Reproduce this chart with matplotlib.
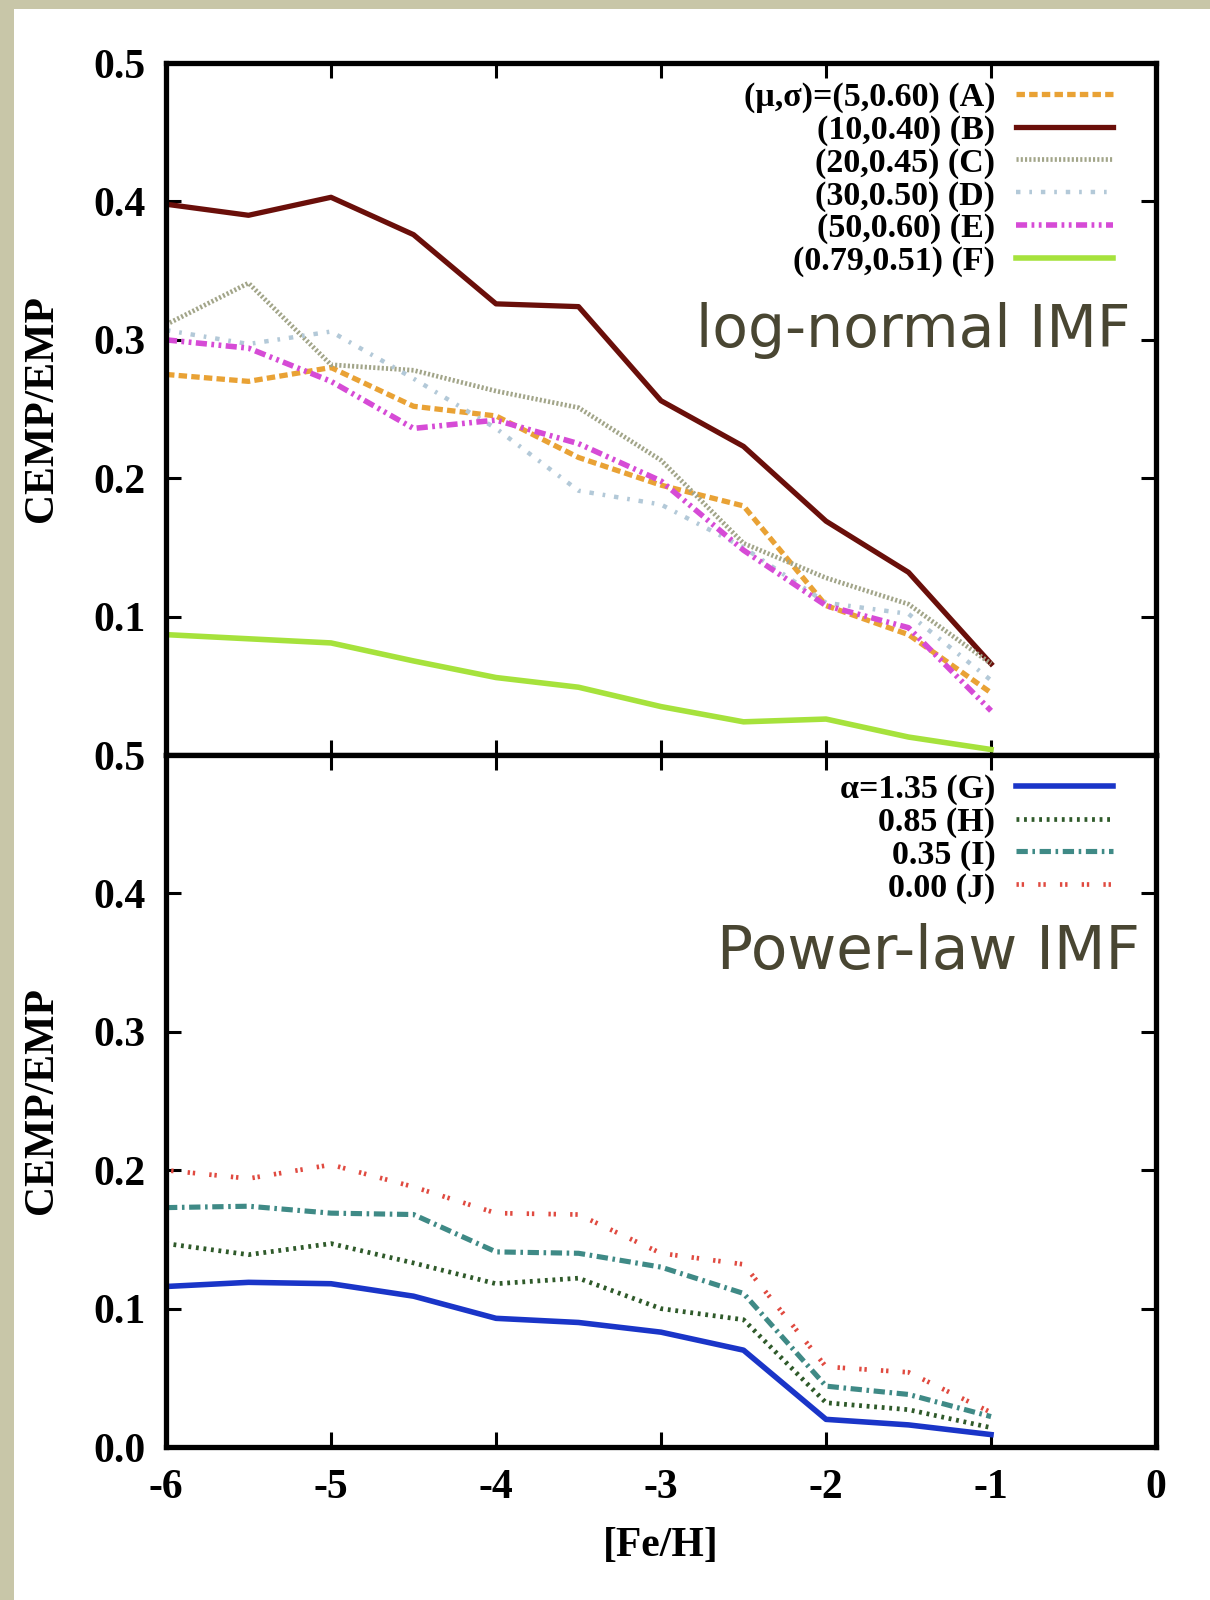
import matplotlib
matplotlib.use("Agg")
import matplotlib.pyplot as plt
from matplotlib.patches import Rectangle

# [Fe/H] grid
feh = [-6, -5.5, -5, -4.5, -4, -3.5, -3, -2.5, -2, -1.5, -1]

# log-normal IMF models
lab_top = ["(\u03bc,\u03c3)=(5,0.60) (A)", "(10,0.40) (B)", "(20,0.45) (C)",
           "(30,0.50) (D)", "(50,0.60) (E)", "(0.79,0.51) (F)"]
A = [0.275, 0.270, 0.280, 0.252, 0.245, 0.215, 0.195, 0.180, 0.108, 0.087, 0.045]
B = [0.398, 0.390, 0.403, 0.376, 0.326, 0.324, 0.256, 0.223, 0.169, 0.132, 0.066]
C = [0.311, 0.341, 0.282, 0.278, 0.263, 0.251, 0.213, 0.153, 0.128, 0.109, 0.066]
D = [0.307, 0.297, 0.306, 0.272, 0.236, 0.191, 0.181, 0.150, 0.110, 0.102, 0.054]
E = [0.300, 0.294, 0.270, 0.236, 0.242, 0.225, 0.198, 0.148, 0.108, 0.092, 0.032]
F = [0.087, 0.084, 0.081, 0.068, 0.056, 0.049, 0.035, 0.024, 0.026, 0.013, 0.004]

# power-law IMF models
lab_bot = ["\u03b1=1.35 (G)", "0.85 (H)", "0.35 (I)", "0.00 (J)"]
G = [0.116, 0.119, 0.118, 0.109, 0.093, 0.090, 0.083, 0.070, 0.020, 0.016, 0.009]
H = [0.147, 0.139, 0.147, 0.133, 0.118, 0.122, 0.100, 0.092, 0.032, 0.027, 0.014]
I = [0.173, 0.174, 0.169, 0.168, 0.141, 0.140, 0.130, 0.111, 0.044, 0.038, 0.022]
J = [0.200, 0.194, 0.204, 0.188, 0.169, 0.168, 0.140, 0.132, 0.058, 0.054, 0.025]

xticks = [-6, -5, -4, -3, -2, -1, 0]
yticks_top = [0.1, 0.2, 0.3, 0.4, 0.5]
yticks_bot = [0.0, 0.1, 0.2, 0.3, 0.4, 0.5]

serif = "Liberation Serif"
plt.rcParams["font.family"] = [serif, "DejaVu Serif"]
plt.rcParams["font.weight"] = "bold"

fig = plt.figure(figsize=(12.1, 16), dpi=100)
fig.patch.set_facecolor("#c8c6a8")
fig.add_artist(Rectangle((14 / 1210, 0), 1, 1 - 9 / 1600, transform=fig.transFigure,
                         facecolor="white", edgecolor="none", zorder=0))

ax1 = fig.add_axes([0.1372, 0.5281, 0.8182, 0.4325])
ax2 = fig.add_axes([0.1372, 0.0956, 0.8182, 0.4325])

ax1.plot(feh, A, color="#e9a235", lw=3.8, ls=(0, (1.6, 0.8)), label=lab_top[0])
ax1.plot(feh, B, color="#6a0f0a", lw=3.8, label=lab_top[1])
ax1.plot(feh, C, color="#a2a589", lw=3.4, ls=(0, (0.45, 0.45)), label=lab_top[2])
ax1.plot(feh, D, color="#b3c9d8", lw=3.2, ls=(0, (1.0, 2.0, 0.6, 2.0)), label=lab_top[3])
ax1.plot(feh, E, color="#d64bd6", lw=4.0, ls=(0, (2.0, 0.8, 0.5, 0.8, 0.5, 0.8)), label=lab_top[4])
ax1.plot(feh, F, color="#a6e23c", lw=4.0, label=lab_top[5])

ax2.plot(feh, G, color="#1a35c8", lw=4.0, label=lab_bot[0])
ax2.plot(feh, H, color="#2f5a2a", lw=3.4, ls=(0, (0.6, 1.0)), label=lab_bot[1])
ax2.plot(feh, I, color="#3f8a86", lw=3.7, ls=(0, (2.2, 0.9, 0.5, 0.9)), label=lab_bot[2])
ax2.plot(feh, J, color="#e04a40", lw=3.4, ls=(0, (0.5, 0.6, 0.5, 3.0)), label=lab_bot[3])

for ax, yt in ((ax1, yticks_top), (ax2, yticks_bot)):
    ax.set_xlim(-6, 0)
    ax.set_ylim(0, 0.5)
    ax.set_xticks(xticks)
    ax.set_yticks(yt)
    ax.set_yticklabels([f"{v:.1f}" for v in yt])
    ax.tick_params(direction="in", length=11, width=2.2, top=True, right=True,
                   labelsize=30, pad=15)
    for s in ax.spines.values():
        s.set_linewidth(3.8)
    ax.set_ylabel("CEMP/EMP", fontsize=30, fontweight="bold")
    ax.yaxis.set_label_coords(-0.106, 0.5)
    ax.legend(loc="upper right", bbox_to_anchor=(0.97, 0.993), markerfirst=False,
              frameon=False, fontsize=24.5, handlelength=2.85, handletextpad=0.6,
              labelspacing=0.05, borderaxespad=0)

ax1.tick_params(labelbottom=False)
ax2.set_xticklabels([str(v) for v in xticks])
ax2.tick_params(axis="x", pad=16)
ax2.set_xlabel("[Fe/H]", fontsize=30, fontweight="bold")
ax2.xaxis.set_label_coords(0.5, -0.115)

fig.text(1130 / 1210, 1 - 347 / 1600, "log-normal IMF", ha="right", va="baseline",
         fontsize=42, color="#494632", family="DejaVu Sans", weight="normal")
fig.text(1140 / 1210, 1 - 969 / 1600, "Power-law IMF", ha="right", va="baseline",
         fontsize=43, color="#494632", family="DejaVu Sans", weight="normal")

fig.savefig("out.png", dpi=100, facecolor=fig.get_facecolor())
